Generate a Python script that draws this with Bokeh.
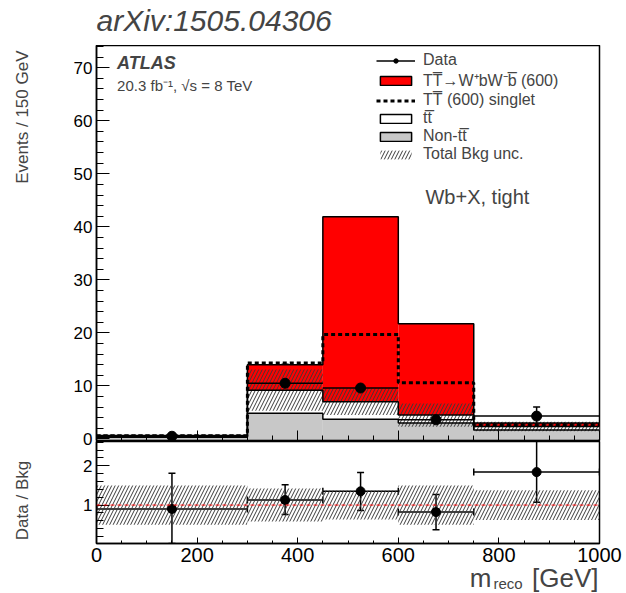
import numpy as np
from bokeh.plotting import figure
from bokeh.layouts import column, row
from bokeh.models import (ColumnDataSource, Whisker, TeeHead, Span, Label, Legend,
                          LegendItem, FixedTicker, Range1d, CustomLabelingPolicy)
from bokeh.embed import file_html
from bokeh.resources import INLINE

# ---------------- data ----------------
bin_edges = [0, 300, 450, 600, 750, 1000]
non_ttbar = [0.30, 4.85, 3.70, 3.00, 1.70]
ttbar = [0.25, 4.35, 3.30, 1.50, 0.64]
signal_wbwb = [0.10, 4.80, 34.9, 17.2, 0.66]
singlet_total = [0.58, 14.3, 19.7, 10.6, 2.65]
bkg_unc = [0.28, 3.9, 2.5, 2.2, 0.9]
data_vals = [0.5, 10.5, 9.6, 3.6, 4.3]
data_low = [0.0, 7.2, 6.4, 1.6, 2.6]
data_high = [1.0, 14.1, 12.7, 5.5, 6.0]

ratio_vals = [0.90, 1.13, 1.35, 0.82, 1.84]
ratio_low = [0.02, 0.76, 0.86, 0.37, 1.07]
ratio_high = [1.81, 1.52, 1.83, 1.27, 2.75]
ratio_unc = [0.50, 0.42, 0.37, 0.50, 0.38]

x_ticks = [0, 200, 400, 600, 800, 1000]
y_ticks_main = [0, 10, 20, 30, 40, 50, 60, 70]
y_ticks_ratio = [1, 2]

FONT = "Liberation Sans"

# ---------------- derived ----------------
left = np.array(bin_edges[:-1], float)
right = np.array(bin_edges[1:], float)
center = (left + right) / 2
nt = np.array(non_ttbar)
bkg = nt + np.array(ttbar)
tot = bkg + np.array(signal_wbwb)
unc = np.array(bkg_unc)
runc = np.array(ratio_unc)

src = ColumnDataSource(dict(
    left=left, right=right, center=center, zero=np.zeros_like(nt), nt=nt, bkg=bkg, tot=tot,
    unc_lo=bkg - unc, unc_hi=bkg + unc,
    data=data_vals, dlo=data_low, dhi=data_high,
    r=ratio_vals, rlo=ratio_low, rhi=ratio_high,
    run_lo=1 - runc, run_hi=1 + runc,
))


def ext(v):
    v = list(v)
    return v + [v[-1]]


def style_axis(ax, size, tin, tmin):
    ax.axis_line_color = "black"
    ax.axis_line_width = 1.5
    ax.major_tick_line_color = "black"
    ax.minor_tick_line_color = "black"
    ax.major_tick_in = tin
    ax.major_tick_out = 0
    ax.minor_tick_in = tmin
    ax.minor_tick_out = 0
    ax.major_label_text_font = FONT
    ax.major_label_text_font_size = size
    ax.major_label_text_color = "black"


LW = 40          # width of the left text strip
FW = 503
LB, RB = 96 - LW, 27


def strip(fh, yr, **kw):
    s = figure(frame_width=FW, frame_height=fh, x_range=Range1d(96, 599), y_range=Range1d(*yr),
               output_backend="svg", toolbar_location=None, min_border_left=LB,
               min_border_right=RB, min_border_top=0, min_border_bottom=0, **kw)
    s.axis.visible = False
    s.grid.visible = False
    s.outline_line_alpha = 0
    return s


# ---------------- title strip (page pixel coordinates) ----------------
p0 = strip(45, (45, 0))
p0.add_layout(Label(x=96, y=19.5, text="arXiv:1505.04306", text_font=FONT,
                    text_font_size="30px", text_font_style="italic",
                    text_baseline="alphabetic"))

# ---------------- main panel ----------------
p1 = figure(frame_width=FW, frame_height=395, x_range=Range1d(0, 1000),
            y_range=Range1d(-0.3, 74.2), output_backend="svg", toolbar_location=None,
            min_border_left=LB, min_border_right=RB, min_border_top=0, min_border_bottom=10)
p1.grid.visible = False
p1.outline_line_color = "black"
p1.outline_line_width = 1.5

p1.quad(left="left", right="right", bottom="zero", top="nt", source=src,
        fill_color="#c8c8c8", line_alpha=0)
p1.quad(left="left", right="right", bottom="nt", top="bkg", source=src,
        fill_color="white", line_alpha=0)
p1.quad(left="left", right="right", bottom="bkg", top="tot", source=src,
        fill_color="#ff0000", line_alpha=0)
r_unc = p1.quad(left="left", right="right", bottom="unc_lo", top="unc_hi", source=src,
                fill_alpha=0, line_alpha=0, hatch_pattern="/", hatch_color="#3a3a3a",
                hatch_scale=7, hatch_weight=1)

p1.step(x=bin_edges, y=ext(nt), mode="after", line_color="black", line_width=1.5)
p1.step(x=bin_edges, y=ext(bkg), mode="after", line_color="black", line_width=1.5)
p1.step(x=bin_edges, y=ext(tot), mode="after", line_color="black", line_width=1.5)
r_singlet = p1.step(x=bin_edges, y=ext(singlet_total), mode="after", line_color="black",
                    line_width=3, line_dash="4 3")

r_xbar = p1.segment(x0="left", x1="right", y0="data", y1="data", source=src,
                    line_color="black", line_width=1.5)
p1.add_layout(Whisker(base="center", lower="dlo", upper="dhi", source=src, dimension="height",
                      line_color="black", line_width=1.5,
                      upper_head=TeeHead(size=7, line_color="black", line_width=1.5),
                      lower_head=TeeHead(size=7, line_color="black", line_width=1.5)))
r_pts = p1.scatter("center", "data", source=src, size=10, color="black")

# legend-only renderers (hidden), carrying the outlined boxes
px_sig = p1.quad(left="left", right="right", bottom="bkg", top="tot", source=src,
                 fill_color="#ff0000", line_color="black", line_width=1.5, visible=False)
px_tt = p1.quad(left="left", right="right", bottom="nt", top="bkg", source=src,
                fill_color="white", line_color="black", line_width=1.5, visible=False)
px_nt = p1.quad(left="left", right="right", bottom="zero", top="nt", source=src,
                fill_color="#c8c8c8", line_color="black", line_width=1.5, visible=False)

legend = Legend(items=[
    LegendItem(label="Data", renderers=[r_xbar, r_pts]),
    LegendItem(label="T\u0054\u0305\u2192W\u207abW\u207bb\u0305 (600)", renderers=[px_sig]),
    LegendItem(label="T\u0054\u0305 (600) singlet", renderers=[r_singlet]),
    LegendItem(label="tt\u0305", renderers=[px_tt]),
    LegendItem(label="Non-tt\u0305", renderers=[px_nt]),
    LegendItem(label="Total Bkg unc.", renderers=[r_unc]),
], location=(277, 274))
legend.label_text_font = FONT
legend.label_text_font_size = "16px"
legend.label_height = 18
legend.glyph_height = 11
legend.glyph_width = 39
legend.label_standoff = 8
legend.spacing = 0
legend.padding = 3
legend.margin = 0
legend.border_line_alpha = 0
legend.background_fill_alpha = 0
legend.inactive_fill_alpha = 0
p1.add_layout(legend)

style_axis(p1.yaxis[0], "17px", 13, 7)
p1.yaxis.ticker = FixedTicker(ticks=y_ticks_main, minor_ticks=list(range(0, 75, 2)))
p1.yaxis.major_label_standoff = 4
style_axis(p1.xaxis[0], "0px", 10, 5)
p1.xaxis.ticker = FixedTicker(ticks=x_ticks, minor_ticks=list(range(0, 1001, 50)))
p1.xaxis.major_label_standoff = 0
p1.xaxis.major_label_policy = CustomLabelingPolicy(code="return []")

p1.add_layout(Label(x=41, y=70.9, text="ATLAS", text_font=FONT, text_font_size="18px",
                    text_font_style="bold italic", text_baseline="alphabetic"))
p1.add_layout(Label(x=41, y=66.6, text="20.3 fb\u207b\u00b9, \u221as = 8 TeV", text_font=FONT,
                    text_font_size="15px", text_baseline="alphabetic"))
p1.add_layout(Label(x=654, y=45.7, text="Wb+X, tight", text_font=FONT, text_font_size="20px",
                    text_baseline="alphabetic"))

# ---------------- ratio panel ----------------
p2 = figure(frame_width=FW, frame_height=102, x_range=p1.x_range,
            y_range=Range1d(0.02, 2.62), output_backend="svg", toolbar_location=None,
            min_border_left=LB, min_border_right=RB, min_border_top=0, min_border_bottom=34,
            styles={"margin-top": "-9px"})
p2.grid.visible = False
p2.outline_line_color = "black"
p2.outline_line_width = 1.5
p2.background_fill_alpha = 0
p2.border_fill_alpha = 0

p2.quad(left="left", right="right", bottom="run_lo", top="run_hi", source=src,
        fill_alpha=0, line_alpha=0, hatch_pattern="/", hatch_color="#3a3a3a",
        hatch_scale=7, hatch_weight=1)
p2.add_layout(Span(location=1, dimension="width", line_color="red", line_width=1,
                   line_dash="4 3"))
p2.add_layout(Whisker(base="r", lower="left", upper="right", source=src, dimension="width",
                      line_color="black", line_width=1.5,
                      upper_head=TeeHead(size=7, line_color="black", line_width=1.5),
                      lower_head=TeeHead(size=7, line_color="black", line_width=1.5)))
p2.add_layout(Whisker(base="center", lower="rlo", upper="rhi", source=src, dimension="height",
                      line_color="black", line_width=1.5,
                      upper_head=TeeHead(size=7, line_color="black", line_width=1.5),
                      lower_head=TeeHead(size=7, line_color="black", line_width=1.5)))
p2.scatter("center", "r", source=src, size=9, color="black")

style_axis(p2.yaxis[0], "17px", 13, 7)
p2.yaxis.ticker = FixedTicker(ticks=y_ticks_ratio,
                              minor_ticks=[round(0.2 * i, 1) for i in range(1, 14)])
p2.yaxis.major_label_standoff = 4
style_axis(p2.xaxis[0], "20px", 6, 3)
p2.xaxis.ticker = FixedTicker(ticks=x_ticks, minor_ticks=list(range(0, 1001, 50)))
p2.xaxis.major_label_standoff = 4

# ---------------- x-axis title strip (page pixel coordinates, overlaps transparently) ------
p3 = strip(38, (593, 555), styles={"margin-top": "-22px"})
p3.background_fill_alpha = 0
p3.border_fill_alpha = 0
p3.add_layout(Label(x=491, y=577, text="m", text_align="right", text_baseline="alphabetic",
                    text_font=FONT, text_font_size="26px"))
p3.add_layout(Label(x=493, y=583, text="reco", text_align="left", text_baseline="alphabetic",
                    text_font=FONT, text_font_size="15px"))
p3.add_layout(Label(x=598, y=577, text="[GeV]", text_align="right", text_baseline="alphabetic",
                    text_font=FONT, text_font_size="26px"))

# ---------------- left strip for the y-axis titles (page pixel coordinates) ----------------
pL = figure(frame_width=LW, frame_height=593, x_range=Range1d(0, LW), y_range=Range1d(593, 0),
            output_backend="svg", toolbar_location=None, min_border_left=0,
            min_border_right=0, min_border_top=0, min_border_bottom=0)
pL.axis.visible = False
pL.grid.visible = False
pL.outline_line_alpha = 0
pL.add_layout(Label(x=22, y=50, text="Events / 150 GeV", angle=np.pi / 2, text_align="right",
                    text_baseline="middle", text_font=FONT, text_font_size="17px"))
pL.add_layout(Label(x=22, y=500, text="Data / Bkg", angle=np.pi / 2, text_align="center",
                    text_baseline="middle", text_font=FONT, text_font_size="17px"))

layout = row(pL, column(p0, p1, p2, p3, spacing=0), spacing=0)
open("out.html", "w").write(file_html(layout, INLINE))
